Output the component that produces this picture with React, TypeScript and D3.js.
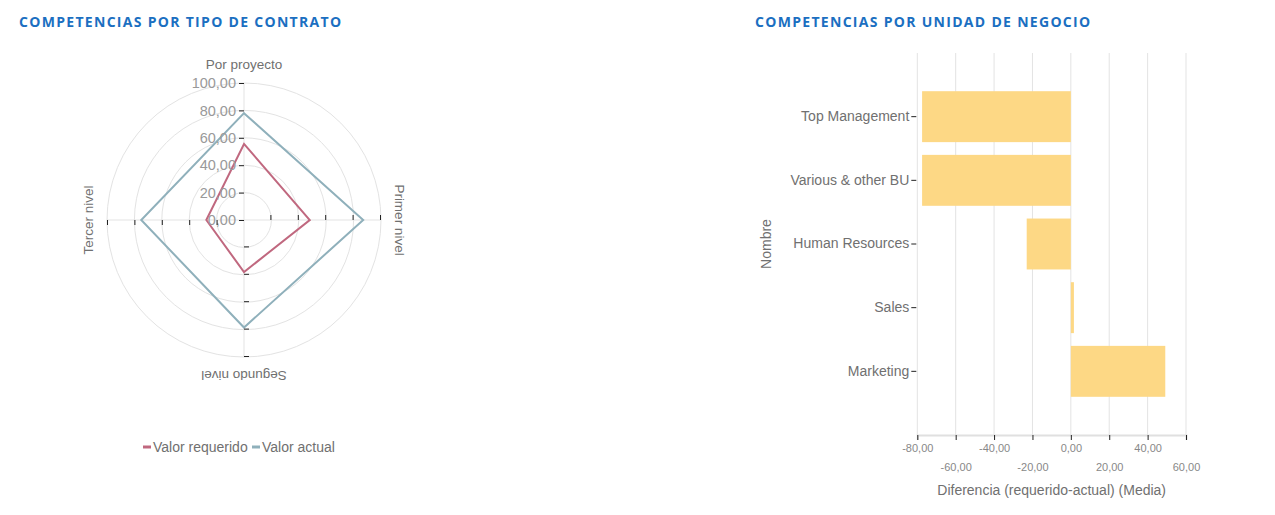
import { useEffect, useRef } from 'react';
import * as d3 from 'd3';

// Radar data (Competencias por tipo de contrato)
const radarAxes = ['Por proyecto', 'Primer nivel', 'Segundo nivel', 'Tercer nivel'];
const valorRequerido = [55.5, 48, 38, 27.5];
const valorActual = [78, 87, 78.5, 75];
const radarTicks = [0, 20, 40, 60, 80, 100];

// Bar data (Competencias por unidad de negocio)
const unidades = ['Top Management', 'Various & other BU', 'Human Resources', 'Sales', 'Marketing'];
const diferencias = [-77.5, -77.5, -23, 1.6, 49.2];
const barTicks = [-80, -60, -40, -20, 0, 20, 40, 60];

const WIDTH = 1275;
const HEIGHT = 515;
const FONT = '"Liberation Sans", Arial, sans-serif';
const COLOR_REQ = '#c0687f';
const COLOR_ACT = '#8fb0bb';
const BAR_COLOR = '#fdd885';
const TEXT_GRAY = '#707070';

// formato español con guion ascii para negativos
const locale = d3.formatLocale({ decimal: ',', thousands: '.', grouping: [3], currency: ['', '€'], minus: '-' });
const fmt = locale.format('.2f');

// radar geometry
const RC = { x: 244, y: 220 };
const R = 137;

// bar geometry
const BAR = { left: 917.3, right: 1186, top: 53, bottom: 435 };

const RadarChart = () => {
  const axesRef = useRef<SVGGElement>(null);
  const rScale = d3.scaleLinear().domain([0, 100]).range([0, R]);
  const angle = (i: number) => (i * 2 * Math.PI) / radarAxes.length;

  useEffect(() => {
    const g = d3.select(axesRef.current);
    g.selectAll('*').remove();
    radarAxes.forEach((_, i) => {
      const axisScale = d3.scaleLinear().domain([0, 100]).range([0, -R]);
      const ax = g
        .append('g')
        .attr('transform', `rotate(${i * 90})`)
        .call(
          d3.axisLeft(axisScale)
            .tickValues(i === 0 ? radarTicks : radarTicks.slice(1))
            .tickSize(5)
            .tickPadding(3)
            .tickFormat((d) => (i === 0 ? fmt(d as number) : ''))
        );
      ax.select('.domain').remove();
      ax.selectAll('line').attr('stroke', '#222');
      ax.selectAll('text')
        .style('font-family', FONT)
        .style('font-size', '14.5px')
        .attr('fill', '#999');
    });
  }, []);

  const line = d3
    .lineRadial<number>()
    .angle((_, i) => angle(i))
    .radius((d) => rScale(d))
    .curve(d3.curveLinearClosed);

  return (
    <g transform={`translate(${RC.x}, ${RC.y})`}>
      {radarTicks.slice(1).map((t) => (
        <circle key={t} r={rScale(t)} fill="none" stroke="#e3e3e3" strokeWidth={1} />
      ))}
      {radarAxes.map((name, i) => (
        <g key={name} transform={`rotate(${i * 90})`}>
          <line x1={0} y1={0} x2={0} y2={-R} stroke="#e3e3e3" strokeWidth={1} />
          <text
            x={0}
            y={-(R + 14)}
            textAnchor="middle"
            fill={TEXT_GRAY}
            style={{ fontFamily: FONT, fontSize: '13.5px' }}
          >
            {name}
          </text>
        </g>
      ))}
      <path d={line(valorActual) || ''} fill="none" stroke={COLOR_ACT} strokeWidth={2} />
      <path d={line(valorRequerido) || ''} fill="none" stroke={COLOR_REQ} strokeWidth={2} />
      <g ref={axesRef} />
    </g>
  );
};

const Legend = () => {
  const items = [
    { label: 'Valor requerido', color: COLOR_REQ, x: 143 },
    { label: 'Valor actual', color: COLOR_ACT, x: 252 },
  ];
  return (
    <g transform="translate(0, 447)">
      {items.map((it) => (
        <g key={it.label} transform={`translate(${it.x}, 0)`}>
          <line x1={0} x2={8} y1={0} y2={0} stroke={it.color} strokeWidth={3} />
          <text x={10} y={5} fill={TEXT_GRAY} style={{ fontFamily: FONT, fontSize: '14px' }}>
            {it.label}
          </text>
        </g>
      ))}
    </g>
  );
};

const BarChart = () => {
  const xAxisRef = useRef<SVGGElement>(null);
  const yAxisRef = useRef<SVGGElement>(null);

  const x = d3.scaleLinear().domain([-80, 60]).range([BAR.left, BAR.right]);
  const y = d3
    .scaleBand<string>()
    .domain(unidades)
    .range([BAR.top, BAR.bottom])
    .paddingInner(0.2)
    .paddingOuter(0.6);

  useEffect(() => {
    const gx = d3.select(xAxisRef.current);
    gx.selectAll('*').remove();
    const ax = gx.call(
      d3.axisBottom(x).tickValues(barTicks).tickSize(5).tickPadding(4).tickFormat((d) => fmt(d as number))
    );
    ax.select('.domain').attr('stroke', '#e0e0e0').attr('stroke-width', 2);
    ax.selectAll('line').attr('stroke', '#222');
    ax.selectAll('text')
      .style('font-family', FONT)
      .style('font-size', '11px')
      .attr('fill', '#888')
      .attr('dy', (_, i) => (i % 2 === 0 ? '0.71em' : '2.45em'));

    const gy = d3.select(yAxisRef.current);
    gy.selectAll('*').remove();
    const ay = gy.call(d3.axisLeft(y).tickSize(5).tickPadding(2));
    ay.select('.domain').remove();
    ay.selectAll('line').attr('stroke', '#222');
    ay.selectAll('text')
      .style('font-family', FONT)
      .style('font-size', '14px')
      .attr('fill', TEXT_GRAY);
  }, []);

  return (
    <g>
      {barTicks.map((t) => (
        <line key={t} x1={x(t)} x2={x(t)} y1={BAR.top} y2={BAR.bottom} stroke="#e3e3e3" strokeWidth={1} />
      ))}
      {unidades.map((u, i) => (
        <rect
          key={u}
          x={x(Math.min(0, diferencias[i]))}
          y={y(u)}
          width={Math.abs(x(diferencias[i]) - x(0))}
          height={y.bandwidth()}
          fill={BAR_COLOR}
        />
      ))}
      <g ref={xAxisRef} transform={`translate(0, ${BAR.bottom})`} />
      <g ref={yAxisRef} transform={`translate(${BAR.left - 1}, 0)`} />
      <text
        x={(BAR.left + BAR.right) / 2}
        y={495}
        textAnchor="middle"
        fill={TEXT_GRAY}
        style={{ fontFamily: FONT, fontSize: '14px' }}
      >
        Diferencia (requerido-actual) (Media)
      </text>
      <text
        transform={`translate(771, ${(BAR.top + BAR.bottom) / 2}) rotate(-90)`}
        textAnchor="middle"
        fill={TEXT_GRAY}
        style={{ fontFamily: FONT, fontSize: '14px' }}
      >
        Nombre
      </text>
    </g>
  );
};

const titleStyle = {
  fontFamily: '"Open Sans", sans-serif',
  fontSize: '14px',
  fontWeight: 700,
  letterSpacing: '1.3px',
};

export default function App() {
  return (
    <div style={{ position: 'absolute', left: 0, top: 0 }}>
      <svg width={WIDTH} height={HEIGHT} style={{ display: 'block', background: '#fff' }}>
        <text x={19} y={27} fill="#1b6fc1" style={titleStyle}>
          COMPETENCIAS POR TIPO DE CONTRATO
        </text>
        <text x={755} y={27} fill="#1b6fc1" style={titleStyle}>
          COMPETENCIAS POR UNIDAD DE NEGOCIO
        </text>
        <RadarChart />
        <Legend />
        <BarChart />
      </svg>
    </div>
  );
}
